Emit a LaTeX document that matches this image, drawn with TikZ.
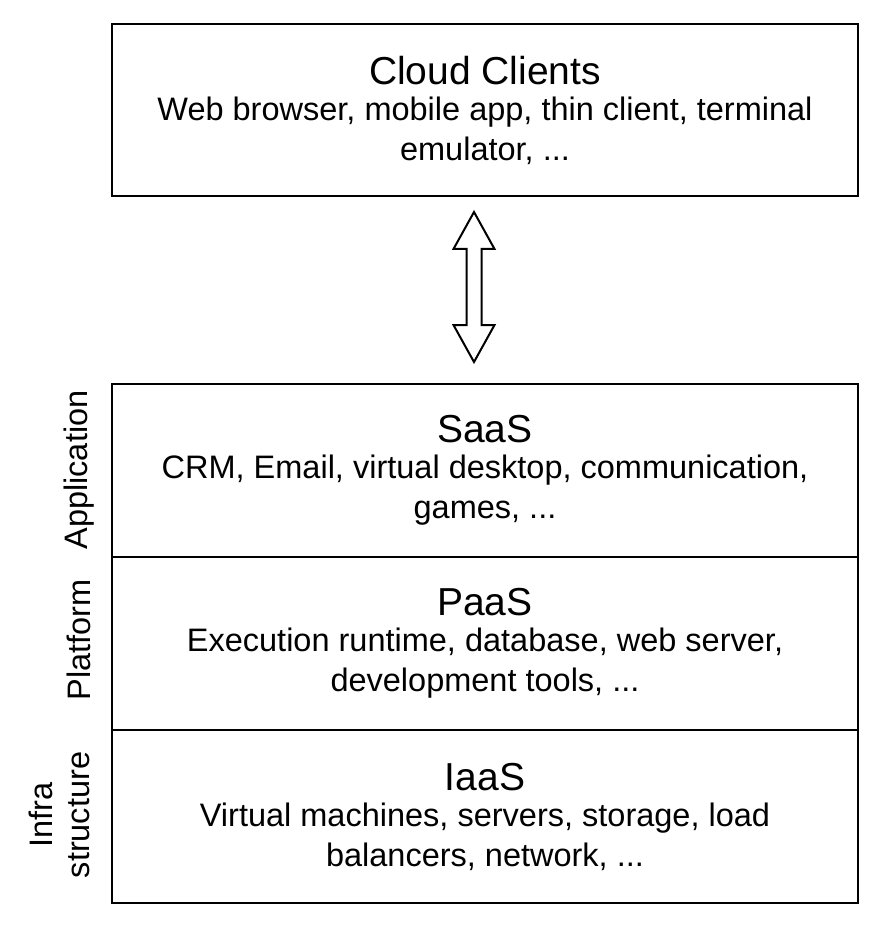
\documentclass[tikz,border=0pt]{standalone}
\usepackage{fontspec}
\setmainfont{Liberation Sans}
\usetikzlibrary{shapes.arrows,calc}

\newcommand{\layertitle}[1]{{\fontsize{39}{39}\selectfont #1}\\[-4pt]}

\begin{document}
\begin{tikzpicture}[x=1pt, y=-1pt,
    layer/.style={draw, line width=2pt, minimum width=746pt, minimum height=173pt,
      outer sep=0pt, align=center, font=\fontsize{32.5}{40}\selectfont},
    side/.style={rotate=90, align=center, font=\fontsize{32.5}{37}\selectfont},
    updown/.style={double arrow, draw, line width=2pt, rotate=90, inner sep=6.5pt,
      minimum height=150pt, double arrow head extend=13pt,
      double arrow tip angle=58}]

    \useasboundingbox (0, 0) rectangle (882, 927);

    \node[layer, minimum height=172pt] (clients) at (485, 110) {\layertitle{Cloud Clients}Web browser, mobile app, thin client, terminal\\ emulator, ...};
    \node[layer] (saas) at (485, 470.5) {\layertitle{SaaS}CRM, Email, virtual desktop, communication,\\ games, ...};
    \node[layer] (paas) at (485, 643.5) {\layertitle{PaaS}Execution runtime, database, web server,\\ development tools, ...};
    \node[layer] (iaas) at (485, 816.5) {\layertitle{IaaS}Virtual machines, servers, storage, load\\ balancers, network, ...};

    \node[side] (app) at (79, 470) {Application};
    \node[side] (plat) at (79, 640) {Platform};
    \node[side] (infra) at (59, 815) {Infra\\ structure};

    \node[updown] (link) at ($(clients.south)!0.5!(saas.north) + (-11, -3)$) {};

\end{tikzpicture}
\end{document}
